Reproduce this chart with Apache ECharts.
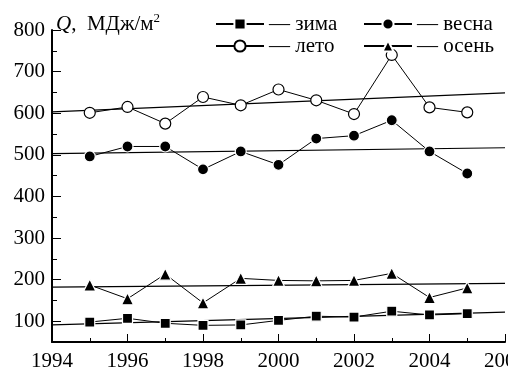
<!DOCTYPE html>
<html lang="ru">
<head>
    <meta charset="UTF-8">
    <script src="https://cdn.jsdelivr.net/npm/echarts@6/dist/echarts.min.js"></script>
    <title>Q, МДж/м2 по сезонам</title>
    <style>
        html, body { margin: 0; padding: 0; background: #fff; }
        #main { width: 508px; height: 374px; }
    </style>
</head>
<body>
<div id="main"></div>
<script>
    // годы наблюдений
    var years = [1995, 1996, 1997, 1998, 1999, 2000, 2001, 2002, 2003, 2004, 2005];
    // значения по сезонам, МДж/м2
    var zima  = [98, 107, 95, 90, 91, 102, 112, 110, 124, 115, 118];
    var vesna = [496, 520, 520, 465, 508, 476, 539, 546, 583, 508, 455];
    var leto  = [601, 615, 575, 639, 619, 657, 631, 598, 740, 614, 602];
    var osen  = [187, 154, 213, 144, 203, 198, 197, 198, 215, 157, 180];
    // линии тренда: значения на краях оси
    var trendX = [1994, 2006];
    var zimaTrend  = [91, 122];
    var vesnaTrend = [503, 517];
    var letoTrend  = [603, 649];
    var osenTrend  = [182, 191];
    // подписи осей
    var xTicks = [1994, 1996, 1998, 2000, 2002, 2004, 2006];
    var yTicks = [100, 200, 300, 400, 500, 600, 700, 800];
    var yMinorTicks = [150, 250, 350, 450, 550, 650, 750];

    var FONT = 'Liberation Serif';
    var serif = {fontFamily: FONT, fontSize: 21, color: '#000'};

    function pairs(xs, ys) {
        var out = [];
        for (var i = 0; i < xs.length; i++) {
            out.push([xs[i], ys[i]]);
        }
        return out;
    }

    function seasonSeries(name, data, symbol, size, fill) {
        return {
            name: name,
            type: 'line',
            data: pairs(years, data),
            symbol: symbol,
            symbolSize: size,
            z: 3,
            lineStyle: {color: '#000', width: 1},
            itemStyle: {color: fill, borderColor: fill === '#fff' ? '#000' : '#fff', borderWidth: 1.2}
        };
    }

    function trendSeries(data) {
        return {
            type: 'line',
            data: pairs(trendX, data),
            symbol: 'none',
            silent: true,
            z: 2,
            lineStyle: {color: '#000', width: 1.2}
        };
    }

    function legendAt(left, names) {
        return {
            left: left,
            top: 8,
            orient: 'vertical',
            data: names,
            itemWidth: 48,
            itemHeight: 14,
            itemGap: 0,
            selectedMode: false,
            formatter: function (n) { return '{t|— ' + n + '}'; },
            textStyle: {fontFamily: FONT, fontSize: 21, color: '#000', lineHeight: 22, rich: {t: serif}}
        };
    }

    var myChart = echarts.init(document.getElementById('main'));
    var option = {
        animation: false,
        textStyle: {fontFamily: FONT, fontSize: 21, color: '#000'},
        grid: {left: 52, right: 3, top: 30, bottom: 32, outerBoundsMode: 'none', containLabel: false},
        legend: [
            legendAt(210, ['зима', 'лето']),
            legendAt(358, ['весна', 'осень'])
        ],
        xAxis: {
            type: 'value',
            min: 1994,
            max: 2006,
            interval: 2,
            axisLine: {lineStyle: {color: '#000', width: 2}},
            axisTick: {inside: true, length: 8, lineStyle: {color: '#000', width: 1}},
            minorTick: {show: true, splitNumber: 2, length: 4, lineStyle: {color: '#000', width: 1}},
            splitLine: {show: false},
            axisLabel: {
                margin: 9,
                fontFamily: FONT,
                fontSize: 21,
                color: '#000',
                hideOverlap: false,
                customValues: xTicks,
                formatter: function (v) { return '{t|' + v + '}'; },
                rich: {t: serif}
            }
        },
        yAxis: [
            {
                type: 'value',
                min: 50,
                max: 800,
                name: '{q|Q}{t|,  МДж/м}{s|2}',
                nameLocation: 'end',
                nameGap: 6,
                nameTextStyle: {
                    align: 'left',
                    verticalAlign: 'middle',
                    padding: [0, 0, 0, 4],
                    fontFamily: FONT,
                    fontSize: 21,
                    color: '#000',
                    rich: {
                        t: serif,
                        q: {fontFamily: FONT, fontSize: 21, fontStyle: 'italic', color: '#000'},
                        s: {fontFamily: FONT, fontSize: 13, color: '#000', padding: [0, 0, 10, 0]}
                    }
                },
                axisLine: {show: true, lineStyle: {color: '#000', width: 2}},
                axisTick: {show: true, inside: true, length: 9, customValues: yTicks, lineStyle: {color: '#000', width: 1}},
                splitLine: {show: false},
                axisLabel: {
                    margin: 7,
                    fontFamily: FONT,
                    fontSize: 21,
                    color: '#000',
                    customValues: yTicks,
                    formatter: function (v) { return '{t|' + v + '}'; },
                    rich: {t: serif}
                }
            },
            {
                type: 'value',
                min: 50,
                max: 800,
                position: 'left',
                axisLine: {show: false},
                axisTick: {show: true, inside: true, length: 5, customValues: yMinorTicks, lineStyle: {color: '#000', width: 1}},
                axisLabel: {show: false},
                splitLine: {show: false}
            }
        ],
        series: [
            trendSeries(zimaTrend),
            trendSeries(vesnaTrend),
            trendSeries(letoTrend),
            trendSeries(osenTrend),
            seasonSeries('зима', zima, 'rect', 10, '#000'),
            seasonSeries('весна', vesna, 'circle', 11, '#000'),
            seasonSeries('лето', leto, 'circle', 11, '#fff'),
            seasonSeries('осень', osen, 'triangle', 12, '#000')
        ]
    };
    myChart.setOption(option);
</script>
</body>
</html>
